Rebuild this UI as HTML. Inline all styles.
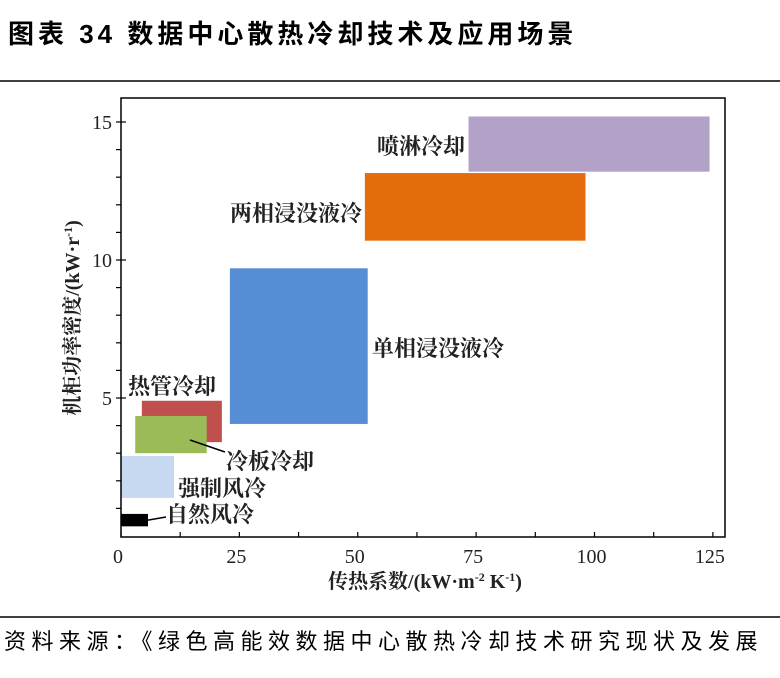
<!DOCTYPE html>
<html><head><meta charset="utf-8">
<style>
body{margin:0;background:#fff;}
svg text{font-family:"Liberation Serif","Noto Serif CJK SC",serif;}
.cjk{font-family:"Liberation Sans","Noto Sans CJK SC",sans-serif;}
</style></head>
<body>
<svg id="chart" width="780" height="673" xmlns="http://www.w3.org/2000/svg">
<text x="8" y="43" class="cjk" font-size="26" font-weight="bold" letter-spacing="4" fill="#000">图表 34 数据中心散热冷却技术及应用场景</text>
<line x1="0" y1="81" x2="780" y2="81" stroke="#000" stroke-width="1.5"/>
<line x1="0" y1="617" x2="780" y2="617" stroke="#000" stroke-width="1.5"/>
<text x="4" y="649" class="cjk" font-size="22" letter-spacing="5.5" fill="#000">资料来源：《绿色高能效数据中心散热冷却技术研究现状及发展</text>
<g id="plot"></g>
</svg>
<script>
const names=["自然风冷","强制风冷","冷板冷却","热管冷却","单相浸没液冷","两相浸没液冷","喷淋冷却"];
const xMin=[0,0,3,4.4,23,51.5,73.4];
const xMax=[5.7,11.2,18.1,21.3,52.1,98.1,124.3];
const yMin=[0.35,1.38,3.0,3.4,4.06,10.7,13.2];
const yMax=[0.8,2.9,4.35,4.9,9.7,13.15,15.2];
const colors=["#000000","#c6d9f1","#9bbb59","#c0504d","#558ed5","#e46c0a","#b3a2c7"];
const xTicks=[0,25,50,75,100,125];
const yTicks=[5,10,15];
const drawOrder=[0,1,3,2,4,5,6];
const labelPos=[[166,522,"start"],[178,496,"start"],[226,469,"start"],[128,394,"start"],[372,356,"start"],[362,221,"end"],[465,154,"end"]];

const L=121,R=725,T=98,B=537;
const sx=v=>121+v*4.735;
const sy=v=>536-v*27.6;
const NS="http://www.w3.org/2000/svg";
const g=document.getElementById('plot');
function mk(t,a){const e=document.createElementNS(NS,t);for(const k in a)e.setAttribute(k,a[k]);g.appendChild(e);return e;}

drawOrder.forEach(i=>{
  const r=mk('rect',{x:sx(xMin[i]),y:sy(yMax[i]),width:sx(xMax[i])-sx(xMin[i]),height:sy(yMin[i])-sy(yMax[i]),fill:colors[i]});
  
  
});
const l1=mk('line',{x1:sx(xMax[0]),y1:(sy(yMin[0])+sy(yMax[0]))/2,x2:166,y2:517,stroke:'#000','stroke-width':1.5});


const l2=mk('line',{x1:190,y1:440,x2:225,y2:452,stroke:'#000','stroke-width':1.5});



const fr=mk('rect',{x:L,y:T,width:R-L,height:B-T,fill:'none',stroke:'#000','stroke-width':1.5});



for(let v=0;v<=125;v+=12.5){
  const t=mk('line',{x1:sx(v),y1:B,x2:sx(v),y2:B-5,stroke:'#000','stroke-width':1.2});
  
  
}
for(let v=1;v<=15;v++){
  const t=mk('line',{x1:L-5,y1:sy(v),x2:L+(v%5==0?5:0),y2:sy(v),stroke:'#000','stroke-width':1.2});
  
  
}
xTicks.forEach(v=>{
  const t=mk('text',{x:sx(v)-3,y:563,'font-size':20,'text-anchor':'middle',fill:'#222'});t.textContent=v;
  
  
});
yTicks.forEach(v=>{
  const t=mk('text',{x:112,y:sy(v)+7,'font-size':20,'text-anchor':'end',fill:'#222'});t.textContent=v;
  
  
});
names.forEach((n,i)=>{
  const p=labelPos[i];
  const t=mk('text',{x:p[0],y:p[1],'font-size':22,'font-weight':'bold','text-anchor':p[2],fill:'#222'});t.textContent=n;
  
  
});
const xt=mk('text',{x:425,y:588,'font-size':20,'font-weight':'bold','text-anchor':'middle',fill:'#222'});
xt.innerHTML='传热系数/(kW·m<tspan dy="-7" font-size="12">-2</tspan><tspan dy="7"> K</tspan><tspan dy="-7" font-size="12">-1</tspan><tspan dy="7">)</tspan>';


const yt=mk('text',{x:0,y:0,'font-size':20,'font-weight':'bold','text-anchor':'middle',fill:'#222',transform:'translate(79,318) rotate(-90)'});
yt.innerHTML='机柜功率密度/(kW·r<tspan dy="-7" font-size="12">-1</tspan><tspan dy="7">)</tspan>';


</script>
</body></html>
